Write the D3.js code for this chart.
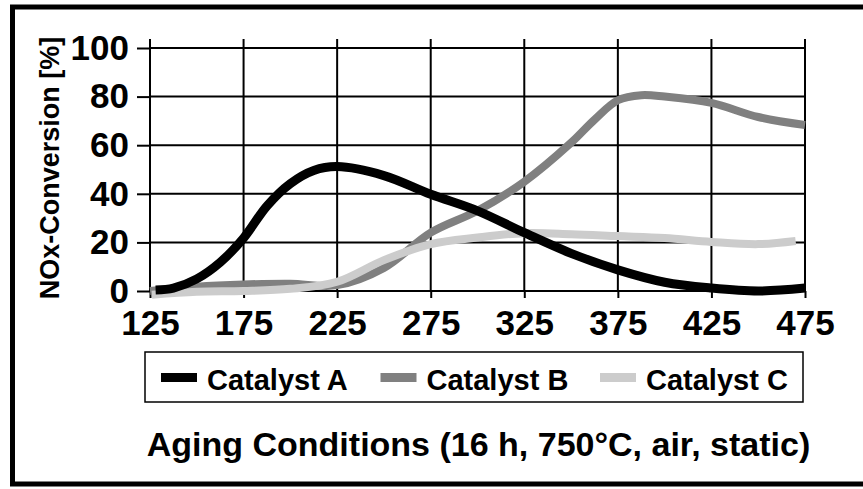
<!DOCTYPE html>
<html>
<head>
<meta charset="utf-8">
<script src="https://cdn.jsdelivr.net/npm/d3@7"></script>
<style>
  body { margin: 0; background: #fff; }
  text { font-family: "Liberation Sans", Arial, sans-serif; font-weight: bold; }
</style>
</head>
<body>
<svg id="chart" width="863" height="489"></svg>
<script>
// data (temperature in °C, conversion in %)
const tempsA = [128, 137.5, 150, 162.5, 175, 187.5, 200, 212.5, 225, 250, 275, 300, 325, 350, 375, 400, 425, 450, 475];
const catA   = [0.4, 1.2, 5, 11.8, 21.8, 35, 44.2, 49.6, 51.2, 47.5, 39.8, 33, 24, 15.5, 8.7, 3.6, 1.2, 0, 1.2];
const tempsB = [125, 150, 175, 200, 225, 250, 275, 300, 325, 350, 362.5, 375, 387.5, 400, 425, 450, 475];
const catB   = [0, 1.8, 2.7, 3, 2.4, 9.5, 24, 33, 45, 61, 70.5, 78.5, 80.6, 80, 77.4, 71.6, 68.3];
const tempsC = [126, 150, 175, 200, 225, 250, 275, 300, 325, 350, 375, 400, 425, 450, 470];
const catC   = [-1.5, -0.3, 0, 0.9, 3.8, 12.7, 19.3, 22, 23.8, 23.4, 22.6, 21.8, 20.2, 19.3, 20.6];
const xTicks = [125, 175, 225, 275, 325, 375, 425, 475];
const yTicks = [0, 20, 40, 60, 80, 100];
const names = ['Catalyst A', 'Catalyst B', 'Catalyst C'];

const color = { a: '#000000', b: '#808080', c: '#cccccc' };
const plot = { left: 150, right: 805, top: 48, bottom: 291 };

const svg = d3.select('#chart');

const x = d3.scaleLinear().domain([125, 475]).range([plot.left, plot.right]);
const y = d3.scaleLinear().domain([0, 100]).range([plot.bottom, plot.top]);

// outer frame (open on the right)
svg.append('path')
    .attr('d', 'M 870 7 H 12.5 V 484 H 870')
    .attr('fill', 'none')
    .attr('stroke', '#000')
    .attr('stroke-width', 5);

// grid
const grid = svg.append('g');
grid.selectAll('line.h')
    .data(yTicks)
    .enter()
    .append('line')
    .attr('class', 'h')
    .attr('x1', plot.left)
    .attr('x2', plot.right)
    .attr('y1', d => y(d))
    .attr('y2', d => y(d))
    .attr('stroke', '#000')
    .attr('stroke-width', 2);
grid.selectAll('line.v')
    .data(xTicks)
    .enter()
    .append('line')
    .attr('class', 'v')
    .attr('x1', d => x(d))
    .attr('x2', d => x(d))
    .attr('y1', plot.top - 9)
    .attr('y2', plot.bottom)
    .attr('stroke', '#000')
    .attr('stroke-width', 2);

// axes
const yAxis = svg.append('g')
    .attr('transform', `translate(${plot.left},0)`)
    .call(d3.axisLeft(y).tickValues(yTicks).tickSize(13).tickPadding(8));
const xAxis = svg.append('g')
    .attr('transform', `translate(0,${plot.bottom})`)
    .call(d3.axisBottom(x).tickValues(xTicks).tickSize(7).tickPadding(12));
[xAxis, yAxis].forEach(ax => {
  ax.select('.domain').remove();
  ax.selectAll('.tick line').attr('stroke', '#000').attr('stroke-width', 2);
  ax.selectAll('.tick text')
      .attr('fill', '#000')
      .style('font-family', '"Liberation Sans", Arial, sans-serif')
      .style('font-weight', 'bold')
      .style('font-size', '35px');
});

// curves
const line = d3.line()
    .x(d => x(d[0]))
    .y(d => y(d[1]))
    .curve(d3.curveCatmullRom.alpha(0.5));

// drawing order as in the reference: B, then C over it, then A on top
const series = [
  { xs: tempsB, ys: catB, color: color.b, w: 8 },
  { xs: tempsC, ys: catC, color: color.c, w: 8 },
  { xs: tempsA, ys: catA, color: color.a, w: 9 }
];
svg.append('g').selectAll('path')
    .data(series)
    .enter()
    .append('path')
    .attr('d', s => line(s.xs.map((t, i) => [t, s.ys[i]])))
    .attr('fill', 'none')
    .attr('stroke', s => s.color)
    .attr('stroke-width', s => s.w)
    .attr('stroke-linejoin', 'round');

// y title
svg.append('text')
    .attr('transform', 'translate(59,168) rotate(-90)')
    .attr('text-anchor', 'middle')
    .style('font-size', '27px')
    .text('NOx-Conversion [%]');

// legend
const legend = svg.append('g');
legend.append('rect')
    .attr('x', 145)
    .attr('y', 352)
    .attr('width', 658)
    .attr('height', 50)
    .attr('fill', 'none')
    .attr('stroke', '#000')
    .attr('stroke-width', 1.5);
const items = legend.selectAll('g')
    .data(names)
    .enter()
    .append('g')
    .attr('transform', (d, i) => `translate(${161 + 219.5 * i},0)`);
items.append('rect')
    .attr('x', 0)
    .attr('y', 373)
    .attr('width', 36)
    .attr('height', 9)
    .attr('fill', (d, i) => [color.a, color.b, color.c][i]);
items.append('text')
    .attr('x', 46)
    .attr('y', 390)
    .style('font-size', '29px')
    .text(d => d);

// bottom caption
svg.append('text')
    .attr('x', 478.5)
    .attr('y', 456)
    .attr('text-anchor', 'middle')
    .style('font-size', '34px')
    .text('Aging Conditions (16 h, 750°C, air, static)');
</script>
</body>
</html>
